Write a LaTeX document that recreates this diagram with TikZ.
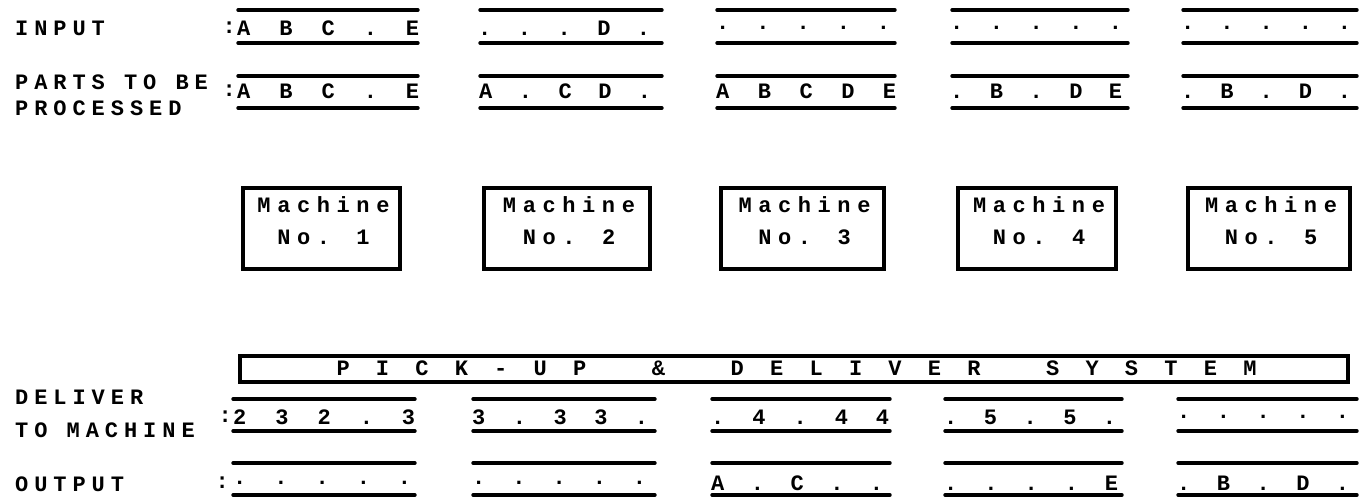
\documentclass[tikz,border=0pt]{standalone}
\usepackage{fontspec}
\newfontfamily\dotfont{Liberation Mono Bold}
\newfontfamily\spfont[LetterSpace=27]{Liberation Mono Bold}
\newfontfamily\mcfont[LetterSpace=30]{Liberation Mono Bold}
\newcommand\fivec[6]{\hbox to #1{#2\hfill #3\hfill #4\hfill #5\hfill #6}}
\tikzset{
  bar/.style={line width=3.4pt, line cap=round},
  celltext/.style={font=\dotfont\fontsize{22}{22}\selectfont, inner sep=0pt, anchor=west},
  lbl/.style={font=\spfont\fontsize{22}{22}\selectfont, inner sep=0pt, anchor=west},
  machbox/.style={draw, line width=3.2pt, minimum height=81pt, inner sep=0pt},
  machtext/.style={font=\mcfont\fontsize{22}{32}\selectfont, align=center, inner sep=0pt},
  pbox/.style={draw, line width=3.2pt, minimum width=1108pt, minimum height=26pt, inner sep=0pt},
}
\begin{document}
\begin{tikzpicture}[x=1pt,y=-1pt]
\useasboundingbox (0,0) rectangle (1362,500);
% left labels
\node[lbl] (lin) at (15,28) {INPUT};
\node[lbl] (lpa) at (15,82) {PARTS TO BE};
\node[lbl] (lpr) at (15,108) {PROCESSED};
\node[lbl] (lde) at (15,397) {DELIVER};
\node[lbl] (ltm) at (15,430) {TO MACHINE};
\node[lbl] (lou) at (15,484) {OUTPUT};
% colons
\node[celltext, anchor=east] (cin) at (236,28) {:};
\node[celltext, anchor=east] (cpa) at (236,91) {:};
\node[celltext, anchor=east] (cde) at (232,417) {:};
\node[celltext, anchor=east] (cou) at (229,483) {:};
% top rows: bars
\foreach \l/\r [count=\i] in {238/418,480/662,717/895,952/1128,1183/1357}{
  \draw[bar] (\l,10) -- (\r,10);
  \draw[bar] (\l,43) -- (\r,43);
  \draw[bar] (\l,76) -- (\r,76);
  \draw[bar] (\l,108) -- (\r,108);
}
% bottom rows: bars
\foreach \l/\r [count=\i] in {233/415,473/655,712/890,945/1122,1178/1357}{
  \draw[bar] (\l,399) -- (\r,399);
  \draw[bar] (\l,431) -- (\r,431);
  \draw[bar] (\l,463) -- (\r,463);
  \draw[bar] (\l,495) -- (\r,495);
}
% INPUT row
\node[celltext] (i1) at (237,28) {\fivec{182pt}{A}{B}{C}{.}{E}};
\node[celltext] (i2) at (478,28) {\fivec{172pt}{.}{.}{.}{D}{.}};
\node[celltext] (i3) at (716,28) {\fivec{174pt}{.}{.}{.}{.}{.}};
\node[celltext] (i4) at (950,28) {\fivec{172pt}{.}{.}{.}{.}{.}};
\node[celltext] (i5) at (1181,28) {\fivec{170pt}{.}{.}{.}{.}{.}};
% PARTS row
\node[celltext] (p1) at (237,91) {\fivec{182pt}{A}{B}{C}{.}{E}};
\node[celltext] (p2) at (479,91) {\fivec{172pt}{A}{.}{C}{D}{.}};
\node[celltext] (p3) at (716,91) {\fivec{180pt}{A}{B}{C}{D}{E}};
\node[celltext] (p4) at (950,91) {\fivec{172pt}{.}{B}{.}{D}{E}};
\node[celltext] (p5) at (1181,91) {\fivec{170pt}{.}{B}{.}{D}{.}};
% machines
\foreach \cx/\w/\n in {321.5/157/1,567/166/2,802.5/163/3,1037/158/4,1269/162/5}{
  \node[machbox, minimum width=\w pt] (m\n) at (\cx,228.5) {};
  \node[machtext] (mt\n) at (\cx+2,221) {Machine\\No. \n};
}
% pick-up & deliver system
\node[pbox] (pick) at (794,369) {};
\node[celltext, anchor=center] (picktxt) at (796.5,368) {\hbox to 920pt{P\hfill I\hfill C\hfill K\hfill -\hfill U\hfill P\hfill\hphantom{X}\hfill \&\hfill\hphantom{X}\hfill D\hfill E\hfill L\hfill I\hfill V\hfill E\hfill R\hfill\hphantom{X}\hfill S\hfill Y\hfill S\hfill T\hfill E\hfill M}};
% DELIVER row
\node[celltext] (d1) at (233,417) {\fivec{182pt}{2}{3}{2}{.}{3}};
\node[celltext] (d2) at (472,417) {\fivec{176pt}{3}{.}{3}{3}{.}};
\node[celltext] (d3) at (711,417) {\fivec{178pt}{.}{4}{.}{4}{4}};
\node[celltext] (d4) at (944,417) {\fivec{172pt}{.}{5}{.}{5}{.}};
\node[celltext] (d5) at (1177,417) {\fivec{172pt}{.}{.}{.}{.}{.}};
% OUTPUT row
\node[celltext] (o1) at (233,483) {\fivec{178pt}{.}{.}{.}{.}{.}};
\node[celltext] (o2) at (472,483) {\fivec{174pt}{.}{.}{.}{.}{.}};
\node[celltext] (o3) at (711,483) {\fivec{172pt}{A}{.}{C}{.}{.}};
\node[celltext] (o4) at (944,483) {\fivec{174pt}{.}{.}{.}{.}{E}};
\node[celltext] (o5) at (1177,483) {\fivec{172pt}{.}{B}{.}{D}{.}};
\end{tikzpicture}
\end{document}
